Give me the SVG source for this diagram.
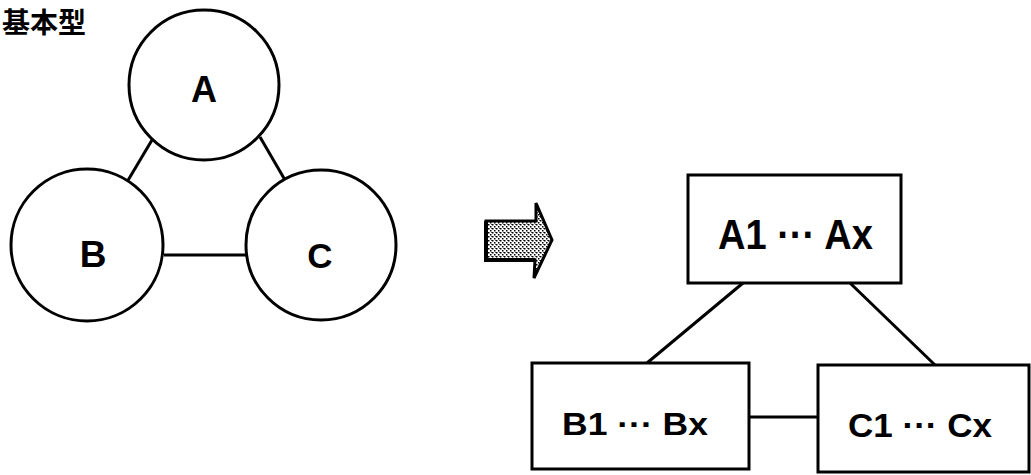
<svg xmlns="http://www.w3.org/2000/svg" width="1031" height="475" viewBox="0 0 1031 475">
<style>
.node{fill:#fff;stroke:#000;stroke-width:3}
.edge{stroke:#000;stroke-width:3;fill:none}
.lbl{font-family:"Liberation Sans","DejaVu Sans",sans-serif;font-weight:bold;fill:#000}
.blbl{font-family:"Liberation Sans","DejaVu Sans",sans-serif;font-weight:bold;fill:#000}
</style>
<defs>
<pattern id="stip" width="4" height="4" patternUnits="userSpaceOnUse">
<rect width="4" height="4" fill="#fff"/>
<rect x="0" y="0" width="1.5" height="1.5" fill="#000"/>
<rect x="2" y="2" width="1.5" height="1.5" fill="#000"/>
<rect x="3" y="0" width="1" height="1" fill="#555"/>
</pattern>
</defs>
<rect width="1031" height="475" fill="#fff"/>
<text x="2" y="33" font-family="'Noto Sans CJK JP',sans-serif" font-weight="bold" font-size="28" fill="#000">基本型</text>
<g id="connectors">
<line class="edge" x1="152" y1="140" x2="127" y2="182"/>
<line class="edge" x1="260" y1="137" x2="285" y2="180"/>
<line class="edge" x1="164" y1="255" x2="246" y2="255"/>
<line class="edge" x1="743" y1="283" x2="647" y2="363"/>
<line class="edge" x1="850" y1="283" x2="935" y2="365"/>
<line class="edge" x1="749" y1="417" x2="818" y2="417"/>
</g>
<g id="nodeA">
<circle class="node" cx="204" cy="85" r="75"/>
<text class="lbl" x="204" y="102" font-size="36" text-anchor="middle">A</text>
</g>
<g id="nodeB">
<circle class="node" cx="87" cy="245" r="76"/>
<text class="lbl" x="93" y="267" font-size="37" text-anchor="middle">B</text>
</g>
<g id="nodeC">
<circle class="node" cx="321" cy="245" r="75"/>
<text class="lbl" x="320" y="268" font-size="35" text-anchor="middle">C</text>
</g>
<g id="arrow">
<polygon points="486,221 536,221 536,203 552,240 534,278 535,260 486,260" fill="url(#stip)" stroke="#000" stroke-width="3" stroke-linejoin="miter"/>
<polyline points="486,221 486,260 535,260" fill="none" stroke="#000" stroke-width="4"/>
</g>
<g id="boxA">
<rect class="node" x="688" y="175" width="213" height="108"/>
<text class="blbl" x="718" y="249" font-size="43" textLength="155" lengthAdjust="spacingAndGlyphs">A1 ··· Ax</text>
</g>
<g id="boxB">
<rect class="node" x="532" y="363" width="217" height="106"/>
<text class="blbl" x="562" y="435" font-size="32" textLength="146" lengthAdjust="spacingAndGlyphs">B1 ··· Bx</text>
</g>
<g id="boxC">
<rect class="node" x="818" y="365" width="211" height="107"/>
<text class="blbl" x="848" y="437" font-size="33" textLength="144" lengthAdjust="spacingAndGlyphs">C1 ··· Cx</text>
</g>
</svg>
